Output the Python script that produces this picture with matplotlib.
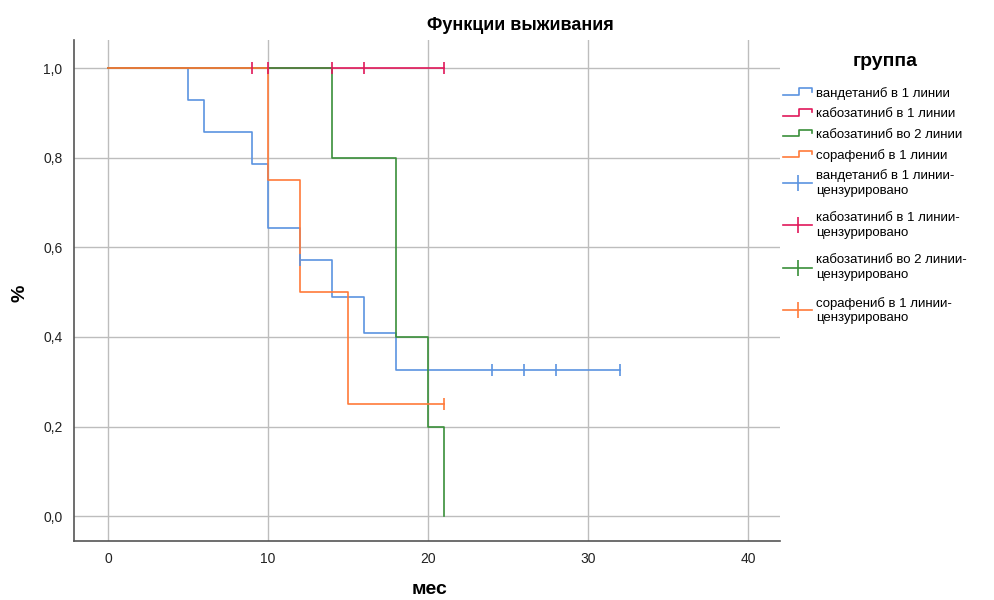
import matplotlib.pyplot as plt
from matplotlib.legend_handler import HandlerBase
from matplotlib.lines import Line2D

plt.rcParams['font.family'] = ['Liberation Sans', 'DejaVu Sans']

# Kaplan-Meier steps
vand_t = [0, 5, 6, 9, 10, 12, 14, 16, 18, 32]
vand_s = [1.0, 0.929, 0.857, 0.786, 0.643, 0.571, 0.490, 0.408, 0.327, 0.327]
vand_cens_t = [12, 24, 26, 28, 32]
vand_cens_s = [0.571, 0.327, 0.327, 0.327, 0.327]

cabo1_t = [0, 21]
cabo1_s = [1.0, 1.0]
cabo1_cens_t = [9, 10, 14, 16, 21]
cabo1_cens_s = [1.0, 1.0, 1.0, 1.0, 1.0]

cabo2_t = [0, 14, 18, 20, 21]
cabo2_s = [1.0, 0.8, 0.4, 0.2, 0.0]
cabo2_cens_t = []
cabo2_cens_s = []

sora_t = [0, 10, 12, 15, 21]
sora_s = [1.0, 0.75, 0.5, 0.25, 0.25]
sora_cens_t = [21]
sora_cens_s = [0.25]

names = ['вандетаниб в 1 линии', 'кабозатиниб в 1 линии',
         'кабозатиниб во 2 линии', 'сорафениб в 1 линии']
colors = ['#5b93e0', '#e0185a', '#3a8f3a', '#ff7a3a']

xticks = [0, 10, 20, 30, 40]
yticks = [0.0, 0.2, 0.4, 0.6, 0.8, 1.0]
ylabels = ['0,0', '0,2', '0,4', '0,6', '0,8', '1,0']


class StepHandler(HandlerBase):
    # draws the little SPSS-like step symbol in the legend
    def create_artists(self, legend, orig_handle, xdescent, ydescent,
                       width, height, fontsize, trans):
        c = orig_handle.get_color()
        x0 = -xdescent
        lo = -ydescent + height * 0.2
        hi = -ydescent + height * 0.9
        xs = [x0, x0 + width * 0.55, x0 + width * 0.55, x0 + width, x0 + width]
        ys = [lo, lo, hi, hi, hi - height * 0.35]
        ln = Line2D(xs, ys, color=c, lw=1.2, transform=trans)
        return [ln]


fig = plt.figure(figsize=(9.95, 6), dpi=100)
ax = fig.add_axes([0.074, 0.098, 0.71, 0.835])

series = [(vand_t, vand_s, vand_cens_t, vand_cens_s),
          (cabo1_t, cabo1_s, cabo1_cens_t, cabo1_cens_s),
          (cabo2_t, cabo2_s, cabo2_cens_t, cabo2_cens_s),
          (sora_t, sora_s, sora_cens_t, sora_cens_s)]

for (t, s, ct, cs), c in zip(series, colors):
    ax.step(t, s, where='post', color=c, lw=1.2, zorder=3)
    if ct:
        ax.plot(ct, cs, linestyle='none', marker='|', markersize=9,
                mew=1.2, color=c, zorder=4)

ax.set_xlim(-2.15, 42)
ax.set_ylim(-0.056, 1.0625)
ax.set_xticks(xticks)
ax.set_yticks(yticks)
ax.set_yticklabels(ylabels)
ax.tick_params(length=0, labelsize=10, colors='#222222', pad=8)
ax.grid(True, color='#bdbdbd', lw=1)
ax.set_axisbelow(True)
for side in ['top', 'right']:
    ax.spines[side].set_visible(False)
for side in ['left', 'bottom']:
    ax.spines[side].set_color('#555555')
    ax.spines[side].set_linewidth(1.2)

fig.text(430 / 995, 1 - 590 / 600, 'мес', ha='center', va='center',
         fontsize=14, fontweight='bold')
fig.text(20 / 995, 1 - 293 / 600, '%', ha='center', va='center',
         fontsize=14, fontweight='bold', rotation=90)
fig.text(0.523, 0.957, 'Функции выживания', ha='center', va='center',
         fontsize=13, fontweight='bold')
fig.text(885 / 995, 1 - 61 / 600, 'группа', ha='center', va='center',
         fontsize=14, fontweight='bold')

# legend: step entries and censored entries as two blocks
step_handles = [Line2D([], [], color=c) for c in colors]
cens_handles = [Line2D([], [], color=c, marker='|', markersize=12, mew=1.2, lw=1.2)
                for c in colors]
cens_labels = [n + '-\nцензурировано' for n in names]

leg1 = fig.legend(step_handles, names,
                  handler_map={h: StepHandler() for h in step_handles},
                  loc='upper left', bbox_to_anchor=(0.775, 1 - 75 / 600), frameon=False,
                  fontsize=9.5, handlelength=2.2, handletextpad=0.3,
                  labelspacing=0.63)

leg2 = fig.legend(cens_handles, cens_labels, loc='upper left',
                  bbox_to_anchor=(0.775, 1 - 157 / 600), frameon=False,
                  fontsize=9.5, handlelength=2.2, handletextpad=0.3,
                  labelspacing=1.18, numpoints=1)
for txt in leg2.get_texts():
    txt.set_linespacing(1.3)

fig.savefig('out.png', dpi=100)
